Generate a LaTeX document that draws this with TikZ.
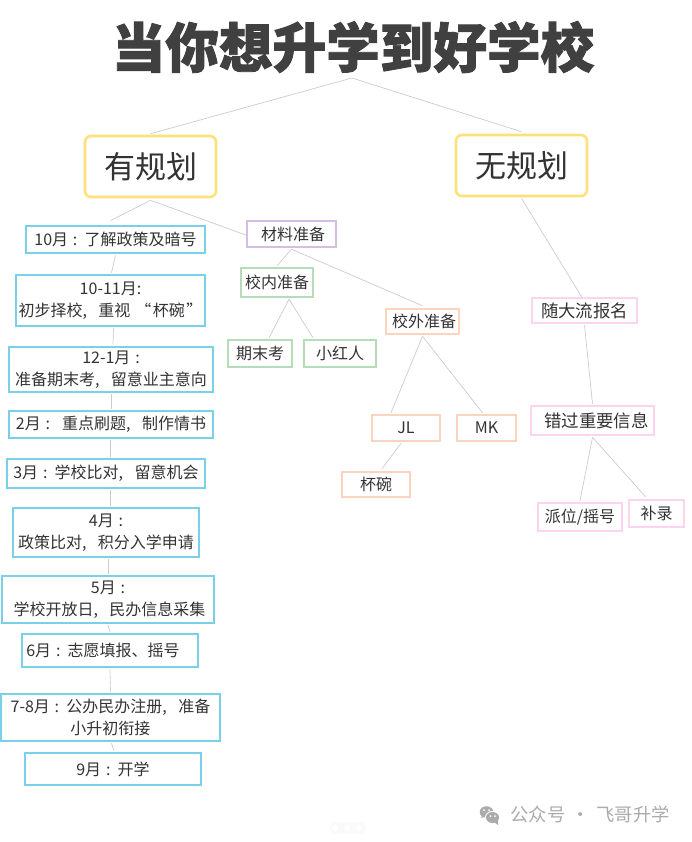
\documentclass[tikz,border=0pt]{standalone}
\usepackage{fontspec}
\setmainfont{Noto Sans CJK SC}
\newfontfamily\titlefont[FakeBold=1.6]{Noto Sans CJK SC Black}
\usetikzlibrary{calc}
\definecolor{cblue}{HTML}{7AD0E8}
\definecolor{cyellow}{HTML}{FFE07A}
\definecolor{cpurple}{HTML}{D4BFE2}
\definecolor{cgreen}{HTML}{B5DDB8}
\definecolor{csalmon}{HTML}{FBD3BF}
\definecolor{cpink}{HTML}{FBD5F0}
\definecolor{cline}{HTML}{CCCCCC}
\definecolor{ctext}{HTML}{333333}
\definecolor{ctitle}{HTML}{404040}
\definecolor{cmark}{HTML}{ABABAB}
\newcommand{\col}{\hspace{.3em}:\hspace{.45em}}
\newcommand{\cmm}{,\hspace{.72em}}
\tikzset{
  box/.style={draw,inner sep=0pt,text=ctext,align=center,font=\fontsize{16}{22}\selectfont},
  bluebox/.style={box,draw=cblue,line width=2.8pt},
  planbox/.style={box,draw=cyellow,line width=2.6pt,rounded corners=6pt,font=\fontsize{31}{36}\selectfont},
  purplebox/.style={box,draw=cpurple,line width=2.5pt},
  greenbox/.style={box,draw=cgreen,line width=2.5pt},
  salmonbox/.style={box,draw=csalmon,line width=2.5pt},
  pinkbox/.style={box,draw=cpink,line width=2.5pt},
  bigpink/.style={pinkbox,font=\fontsize{17.4}{22}\selectfont},
  link/.style={draw=cline,line width=0.7pt},
}
\newcommand{\bx}[7]{\node[#6,minimum width={#4-#2},minimum height={#5-#3}] (#1) at ({(#2+#4)/2},{(#3+#5)/2}) {#7};}
\newcommand{\cn}[4]{\draw[link] ($(#1)+(#2)$) -- ($(#3)+(#4)$);}
\begin{document}
\begin{tikzpicture}[x=1pt,y=-1pt]
\useasboundingbox (0,0) rectangle (691,842);
\fill[white] (0,0) rectangle (691,842);
\node[inner sep=0pt,minimum width=480,minimum height=56,text=ctitle,font=\fontsize{53.6}{56}\titlefont] (title) at (353,47) {当你想升学到好学校};
\coordinate (top) at (352,78);
\bx{yes}{85}{136}{216}{197}{planbox}{有规划}
\bx{no}{456}{135}{587}{196}{planbox}{无规划}
\bx{oct}{26}{226}{205}{253}{bluebox}{10月\col 了解政策及暗号}
\bx{nov}{16}{275}{205}{326}{bluebox}{10-11月:\\初步择校\cmm 重视\hspace{.3em}“\hspace{.1em}杯碗\hspace{.1em}”}
\bx{dec}{9}{347}{213}{392}{bluebox}{12-1月\col\\准备期末考\cmm 留意业主意向}
\bx{feb}{9}{411}{213}{438}{bluebox}{2月\col\hspace{.3em}重点刷题\cmm 制作情书}
\bx{mar}{7}{459}{205}{488}{bluebox}{3月\col 学校比对\cmm 留意机会}
\bx{apr}{13}{508}{199}{557}{bluebox}{4月\col\\政策比对\cmm 积分入学申请}
\bx{may}{2}{576}{214}{623}{bluebox}{5月\col\\\hspace*{3pt}学校开放日\cmm 民办信息采集}
\bx{jun}{22}{634}{198}{667}{bluebox}{6月\col 志愿填报、摇号\hspace*{14pt}}
\bx{jul}{1}{694}{220}{741}{bluebox}{7-8月\col 公办民办注册\cmm 准备\\小升初衔接}
\bx{sep}{25}{753}{201}{785}{bluebox}{9月\col 开学}
\bx{cl}{247}{221}{336}{247}{purplebox}{\hspace*{3pt}材料准备}
\bx{inner}{241}{268}{313}{297}{greenbox}{校内准备}
\bx{exam}{228}{340}{292}{367}{greenbox}{期末考}
\bx{red}{304}{340}{376}{367}{greenbox}{小红人}
\bx{outer}{386}{309}{459}{334}{salmonbox}{\hspace*{3pt}校外准备}
\bx{jl}{372}{415}{440}{441}{salmonbox}{JL}
\bx{mk}{457}{415}{516}{441}{salmonbox}{MK}
\bx{cup}{342}{472}{410}{497}{salmonbox}{杯碗}
\bx{follow}{532}{298}{637}{323}{bigpink}{随大流报名}
\bx{miss}{531}{406}{654}{435}{bigpink}{\hspace*{8pt}错过重要信息}
\bx{assign}{538}{503}{622}{531}{pinkbox}{派位/摇号}
\bx{supp}{629}{500}{684}{527}{pinkbox}{补录}
% connectors
\cn{top}{0,0}{yes.north}{0,-1}
\cn{top}{0,0}{no.north}{0,-2}
\cn{yes.south}{0,2}{oct.north}{-5,-4}
\cn{yes.south}{0,2}{cl.west}{0,1}
\cn{oct.south}{0,1}{nov.north}{1,-1}
\cn{nov.south}{3,1}{dec.north}{2,-1}
\cn{dec.south}{0,1}{feb.north}{0,-1}
\cn{feb.south}{-1,1}{mar.north}{4,-1}
\cn{mar.south}{4,1}{apr.north}{4,-1}
\cn{apr.south}{2,1}{may.north}{0,-1}
\cn{may.south}{0,1}{jun.north}{0,-1}
\cn{jun.south}{0,1}{jul.north}{0,-1}
\cn{jul.south}{1,1}{sep.north}{1,-1}
\cn{cl.south}{0,1}{inner.north}{0,-1}
\cn{cl.south}{0,1}{outer.north}{0,-2}
\cn{inner.south}{12,1}{exam.north}{9,-1}
\cn{inner.south}{12,1}{red.north}{-27,-1}
\cn{outer.south}{0,1}{jl.north}{-15,-1}
\cn{outer.south}{0,1}{mk.north}{-4,-1}
\cn{jl.south}{-5,1}{cup.north}{6,-2}
\cn{no.south}{0,1}{follow.north}{-3,0}
\cn{follow.south}{0,1}{miss.north}{0,-1}
\cn{miss.south}{0,1}{assign.north}{0,-1}
\cn{miss.south}{0,1}{supp.north}{-11,-2}
% watermark
\fill[cmark] (486.5,812) ellipse (6.8 and 5.8);
\fill[cmark] (481,818)--(483,814)--(486,816)--cycle;
\fill[white] (492.5,817.5) ellipse (7.5 and 6.5);
\fill[cmark] (492.5,817.5) ellipse (6.5 and 5.5);
\fill[cmark] (498,825)--(494,822)--(498,820)--cycle;
\fill[white] (484,810) circle (1) (489,810) circle (1) (490.5,816) circle (1) (495,816) circle (1);
\node[inner sep=0pt,text=cmark,font=\fontsize{18.3}{20}\selectfont] (mark) at (590,814) {公众号\hspace{.35em}·\hspace{.35em}飞哥升学};
% carousel dots
\fill[black!2,rounded corners=5pt] (330,822) rectangle (366,834);
\fill[white] (335,828) circle (3) (347,828) circle (3) (359,828) circle (3);
\end{tikzpicture}
\end{document}
